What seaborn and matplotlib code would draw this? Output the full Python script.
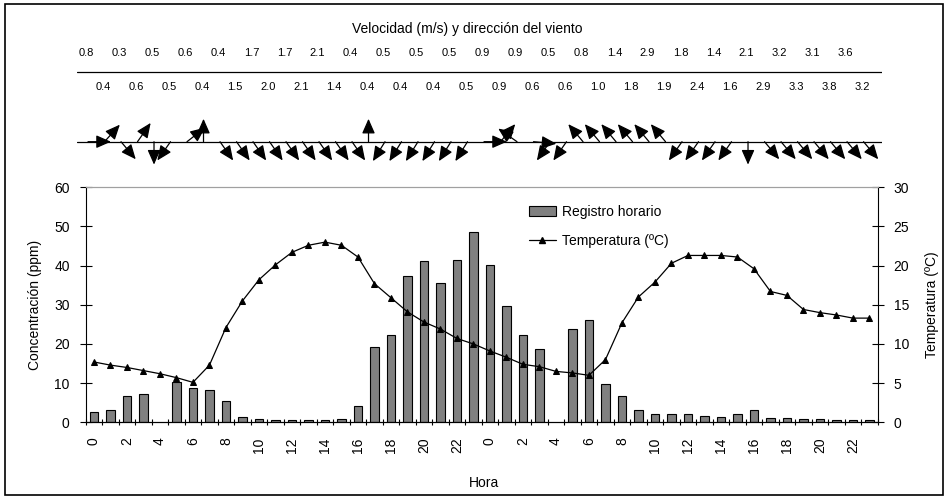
import numpy as np
import pandas as pd
import matplotlib
matplotlib.use('Agg')
import matplotlib.pyplot as plt
from matplotlib.patches import Rectangle, Patch
from matplotlib.lines import Line2D
import seaborn as sns

# Data: two days, hourly
hours = list(range(24)) * 2
conc = [2.7, 3.2, 6.8, 7.1, np.nan, 10.3, 8.8, 8.3, 5.4, 1.4, 0.8, 0.5,
        0.5, 0.5, 0.5, 0.8, 4.1, 19.1, 22.3, 37.4, 41.2, 35.5, 41.4, 48.5,
        40.1, 29.6, 22.3, 18.6, np.nan, 23.7, 26.1, 9.8, 6.6, 3.2, 2.2, 2.0,
        2.0, 1.7, 1.4, 2.2, 3.2, 1.0, 1.0, 0.8, 0.8, 0.5, 0.5, 0.5]
temp = [7.7, 7.3, 7.0, 6.6, 6.2, 5.7, 5.1, 7.3, 12.1, 15.5, 18.2, 20.1,
        21.7, 22.6, 23.0, 22.6, 21.1, 17.7, 15.9, 14.1, 12.8, 11.9, 10.7, 10.0,
        9.1, 8.3, 7.4, 7.1, 6.5, 6.3, 6.0, 8.0, 12.7, 16.0, 17.9, 20.3,
        21.3, 21.3, 21.3, 21.1, 19.6, 16.7, 16.2, 14.4, 14.0, 13.7, 13.3, 13.3]
wind_speed = [0.8, 0.4, 0.3, 0.6, 0.5, 0.5, 0.6, 0.4, 0.4, 1.5, 1.7, 2.0,
              1.7, 2.1, 2.1, 1.4, 0.4, 0.4, 0.5, 0.4, 0.5, 0.4, 0.5, 0.5,
              0.9, 0.9, 0.9, 0.6, 0.5, 0.6, 0.8, 1.0, 1.4, 1.8, 2.9, 1.9,
              1.8, 2.4, 1.4, 1.6, 2.1, 2.9, 3.2, 3.3, 3.1, 3.8, 3.6, 3.2]
# arrow direction in degrees (0 = east, counter-clockwise)
wind_dir = [0, 48, -50, 55, -90, -125, 38, 90,
            -55, -55, -55, -55, -55, -55, -55, -55, -55,
            90,
            -122, -122, -122, -122, -122, -122,
            0, 50, 145, -5, -125, -125,
            130, 130, 130, 130, 130, 130,
            -125, -125, -125, -125,
            -90,
            -50, -50, -50, -50, -50, -50, -50]

pos = np.arange(len(hours))
df = pd.DataFrame({'pos': pos, 'hora': hours, 'conc': conc, 'temp': temp})

sns.set_theme(style='white')
plt.rcParams['font.family'] = ['Liberation Sans', 'DejaVu Sans']
plt.rcParams['text.color'] = 'black'
plt.rcParams['axes.labelcolor'] = 'black'
plt.rcParams['xtick.color'] = 'black'
plt.rcParams['ytick.color'] = 'black'

W, H = 948, 499
fig = plt.figure(figsize=(W / 100, H / 100), dpi=100)

# Main chart
ax = fig.add_axes([85.7 / W, 1 - 422.3 / H, 792 / W, 235 / H])
sns.barplot(data=df.dropna(subset=['conc']), x='pos', y='conc',
            order=list(pos), color='#808080', saturation=1,
            edgecolor='black', linewidth=0.8, width=0.5, ax=ax)
ax2 = ax.twinx()
sns.lineplot(data=df, x='pos', y='temp', color='black', linewidth=0.9,
             marker='^', markersize=5, markeredgecolor='black', ax=ax2)

ax.set_xlim(-0.5, 47.5)
ax.set_ylim(0, 60)
ax2.set_ylim(0, 30)
ax.set_yticks(range(0, 61, 10))
ax2.set_yticks(range(0, 31, 5))
ax.set_xticks(pos[::2])
ax.set_xticklabels([str(h) for h in hours[::2]], rotation=90)
ax.set_xticks(np.arange(-0.5, 48, 1), minor=True)
ax.tick_params(axis='x', which='major', length=0, pad=11, labelsize=10)
ax.tick_params(axis='x', which='minor', direction='inout', length=5,
               width=0.8, bottom=True)
ax.tick_params(axis='y', direction='inout', length=9, width=0.8, pad=7,
               labelsize=10, left=True)
ax2.tick_params(axis='y', direction='inout', length=9, width=0.8, pad=7,
                labelsize=10, right=True)

for a in (ax, ax2):
    for s in ('left', 'right', 'bottom'):
        a.spines[s].set_color('black')
        a.spines[s].set_linewidth(0.8)
    a.spines['top'].set_color('#a0a0a0')
    a.spines['top'].set_linewidth(0.8)
ax.spines['right'].set_visible(False)
ax2.spines['left'].set_visible(False)

ax.set_xlabel('Hora', fontsize=10)
ax.xaxis.set_label_coords(0.503, -0.2285)
ax.set_ylabel('Concentración (ppm)', fontsize=10)
ax.yaxis.set_label_coords(-0.055, 0.5)
ax2.set_ylabel('Temperatura (ºC)', fontsize=10, rotation=90)
ax2.yaxis.set_label_coords(1.0597, 0.5)

handles = [Patch(facecolor='#808080', edgecolor='black', linewidth=0.8),
           Line2D([], [], color='black', linewidth=0.9, marker='^',
                  markersize=5)]
fig.legend(handles, ['Registro horario', 'Temperatura (ºC)'],
           loc='upper left', bbox_to_anchor=(523 / W, 1 - 199 / H),
           frameon=False, fontsize=10, handlelength=2, handleheight=0.75,
           handletextpad=0.4, labelspacing=1.1, borderaxespad=0)

# Wind panel
axw = fig.add_axes([77 / W, 1 - 170 / H, 805 / W, 130 / H])
axw.set_xlim(-0.667, 48.12)
axw.set_ylim(-0.406, 1.459)
axw.axis('off')
axw.axhline(0, color='black', lw=0.9)
axw.axhline(1, color='black', lw=0.9)
arrow_len = 16.5  # points
for i, d in zip(pos, wind_dir):
    r = np.deg2rad(d)
    axw.annotate('', xy=(i, 0), xycoords='data',
                 xytext=(arrow_len * np.cos(r), arrow_len * np.sin(r)),
                 textcoords='offset points',
                 arrowprops=dict(arrowstyle='<|-, head_length=0.75, head_width=0.33',
                                 color='black', lw=0.9, shrinkA=0, shrinkB=0),
                 annotation_clip=False)
for i, s in enumerate(wind_speed):
    axw.text(i - 0.1, 1.27 if i % 2 == 0 else 0.785, f'{s:.1f}',
             ha='center', va='center', fontsize=8)

fig.text(467 / W, 1 - 29 / H, 'Velocidad (m/s) y dirección del viento',
         ha='center', va='center', fontsize=10)

fig.add_artist(Rectangle((5 / W, 4 / H), 938 / W, 491 / H,
                         transform=fig.transFigure, fill=False,
                         edgecolor='black', linewidth=1.2))

fig.savefig('out.png', dpi=100)
